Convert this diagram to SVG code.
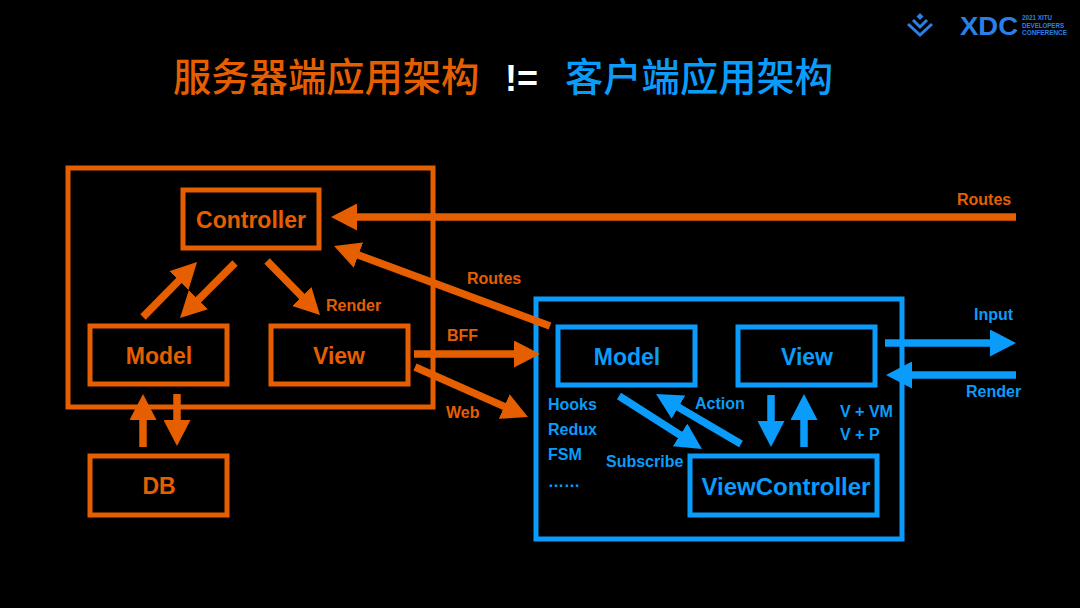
<svg xmlns="http://www.w3.org/2000/svg" width="1080" height="608" viewBox="0 0 1080 608">
<style>
text{font-family:"Liberation Sans",Arial,"Noto Sans CJK SC",sans-serif;font-weight:700}
.o{fill:#e55f00}.b{fill:#0a9cfb}
.box{fill:none;stroke-width:5}
.ob{stroke:#e55f00}.bb{stroke:#0a9cfb}
.n{font-size:23px;text-anchor:middle}
.s{font-size:16px}
.t{font-size:38.3px;font-family:"Noto Sans CJK SC",sans-serif;font-weight:500}
.ol{fill:none;stroke:#e55f00;stroke-width:7.5}
.bl{fill:none;stroke:#0a9cfb;stroke-width:7.5}
.lg{fill:#2a80e8}
.sm{font-size:6.5px}
</style>
<defs>
<marker id="ah" viewBox="0 0 26 27" refX="1" refY="13.5" markerWidth="26" markerHeight="27" markerUnits="userSpaceOnUse" orient="auto"><path d="M0 0L26 13.5L0 27z" fill="#e55f00"/></marker>
<marker id="bh" viewBox="0 0 26 27" refX="1" refY="13.5" markerWidth="26" markerHeight="27" markerUnits="userSpaceOnUse" orient="auto"><path d="M0 0L26 13.5L0 27z" fill="#0a9cfb"/></marker>
</defs>
<rect width="1080" height="608" fill="#000"/>
<g id="logo">
<path d="M908 24L920 35L932 24M913 20L920 27L927 20" fill="none" stroke="#2a80e8" stroke-width="3"/>
<path d="M920 13L923.500 16.500L920 20L916.500 16.500z" class="lg"/>
<text class="lg" x="960" y="35" font-size="26" textLength="58" lengthAdjust="spacingAndGlyphs">XDC</text>
<text class="lg sm" x="1022" y="20" textLength="30" lengthAdjust="spacingAndGlyphs">2021 XITU</text>
<text class="lg sm" x="1022" y="27.500" textLength="42" lengthAdjust="spacingAndGlyphs">DEVELOPERS</text>
<text class="lg sm" x="1022" y="35" textLength="45" lengthAdjust="spacingAndGlyphs">CONFERENCE</text>
</g>
<g id="title">
<text class="t o" x="173" y="91">服务器端应用架构</text>
<text x="505" y="91" font-size="36" fill="#fff">!=</text>
<text class="t b" x="565" y="91">客户端应用架构</text>
</g>
<g id="server"><rect class="box ob" x="68" y="168" width="365" height="239"/></g>
<g id="controller"><rect class="box ob" x="183" y="190" width="136" height="58"/><text class="n o" x="251" y="228">Controller</text></g>
<g id="s-model"><rect class="box ob" x="90" y="326" width="137" height="58"/><text class="n o" x="159" y="364">Model</text></g>
<g id="s-view"><rect class="box ob" x="271" y="326" width="137" height="58"/><text class="n o" x="339" y="364">View</text></g>
<g id="db"><rect class="box ob" x="90" y="456" width="137" height="59"/><text class="n o" x="159" y="494">DB</text></g>
<g id="client"><rect class="box bb" x="536" y="299" width="366" height="240"/></g>
<g id="c-model"><rect class="box bb" x="558" y="327" width="137" height="58"/><text class="n b" x="627" y="365">Model</text></g>
<g id="c-view"><rect class="box bb" x="738" y="327" width="137" height="58"/><text class="n b" x="807" y="365">View</text></g>
<g id="viewcontroller"><rect class="box bb" x="690" y="456" width="187" height="59"/><text class="n b" x="786" y="495" style="font-size:24px">ViewController</text></g>
<g id="connectors">
<path class="ol" marker-end="url(#ah)" d="M1016 217H356"/>
<path class="ol" marker-end="url(#ah)" d="M550 326L357.500 254.700"/>
<path class="ol" marker-end="url(#ah)" d="M143 317L179.500 279.900"/>
<path class="ol" marker-end="url(#ah)" d="M235 263L197.700 300.300"/>
<path class="ol" marker-end="url(#ah)" d="M267 261L302.500 297.200"/>
<path class="ol" marker-end="url(#ah)" d="M414 354H515"/>
<path class="ol" marker-end="url(#ah)" d="M415 367L505.100 406.900"/>
<path class="ol" marker-end="url(#ah)" d="M143 447V419"/>
<path class="ol" marker-end="url(#ah)" d="M177 394V421"/>
<path class="bl" marker-end="url(#bh)" d="M885 343H991"/>
<path class="bl" marker-end="url(#bh)" d="M1016 375H911"/>
<path class="bl" marker-end="url(#bh)" d="M619 396L680.900 435.500"/>
<path class="bl" marker-end="url(#bh)" d="M741 444L677.600 406.700"/>
<path class="bl" marker-end="url(#bh)" d="M771 395V422"/>
<path class="bl" marker-end="url(#bh)" d="M804 447V419"/>
</g>
<g id="labels">
<text class="s o" x="957" y="205">Routes</text>
<text class="s o" x="467" y="284">Routes</text>
<text class="s o" x="326" y="311">Render</text>
<text class="s o" x="447" y="341">BFF</text>
<text class="s o" x="446" y="418">Web</text>
<text class="s b" x="974" y="320">Input</text>
<text class="s b" x="966" y="397">Render</text>
<text class="s b" x="548" y="410">Hooks</text>
<text class="s b" x="548" y="435">Redux</text>
<text class="s b" x="548" y="460">FSM</text>
<text class="s b" x="548" y="487">……</text>
<text class="s b" x="606" y="467">Subscribe</text>
<text class="s b" x="695" y="409">Action</text>
<text class="s b" x="840" y="417">V + VM</text>
<text class="s b" x="840" y="440">V + P</text>
</g>
</svg>
